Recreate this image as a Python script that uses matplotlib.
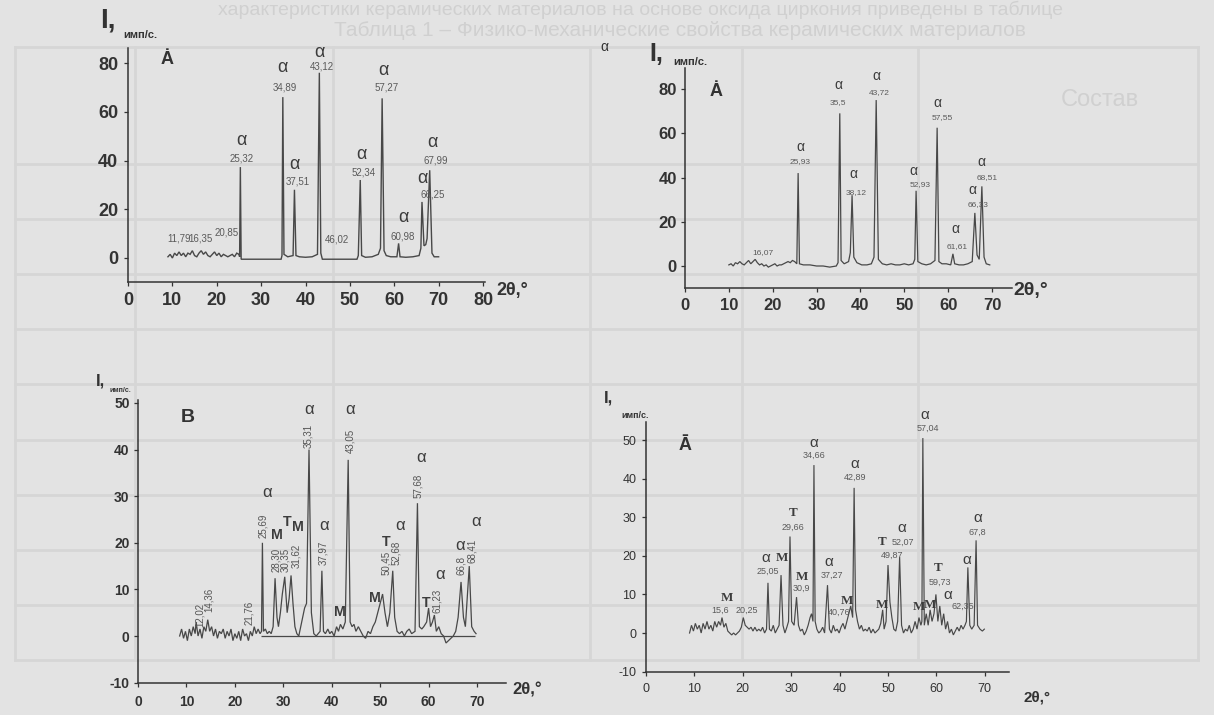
import numpy as np
import matplotlib
matplotlib.use("Agg")
import matplotlib.pyplot as plt

plt.rcParams['font.family'] = ['Liberation Sans', 'DejaVu Sans']
plt.rcParams['axes.unicode_minus'] = False

# ---------------- data (2theta, intensity) ----------------
pattern_a1 = [
    (9.0, 0.5), (9.5, 1.5), (10.0, 0.0), (10.5, 2.0), (11.0, 1.0), (11.5, 2.5), (12.0, 1.0),
    (12.5, 2.0), (13.0, 0.5), (13.5, 2.0), (14.0, 1.5), (14.5, 3.0), (15.0, 1.0), (15.5, 0.5),
    (16.0, 2.0), (16.5, 3.0), (17.0, 1.5), (17.5, 2.5), (18.0, 1.0), (18.5, 0.5), (19.0, 1.5),
    (19.5, 2.5), (20.0, 1.0), (20.5, 2.0), (21.0, 0.5), (21.5, 1.5), (22.0, 1.0), (22.5, 0.5),
    (23.0, 1.0), (23.5, 1.5), (24.0, 0.5), (24.5, 2.0), (25.0, 1.5), (25.15, 0.5), (25.32, 37.3),
    (25.5, -0.5), (34.5, -0.5), (34.7, 1.0), (34.89, 66.0), (35.15, 1.5), (36.0, 0.5), (37.2, 1.0),
    (37.51, 28.0), (37.85, 1.0), (38.6, 0.5), (40.0, 0.3), (41.5, 0.5), (42.7, 1.5), (43.12, 76.0),
    (43.45, 2.0), (43.8, -0.5), (51.6, -0.5), (51.9, 1.0), (52.34, 32.0), (52.65, 1.0), (53.5, 0.3),
    (55.0, 0.5), (56.4, 1.5), (56.9, 4.0), (57.27, 65.5), (57.7, 3.0), (58.2, 1.0), (59.2, 0.5),
    (60.6, 0.5), (60.98, 6.0), (61.3, 0.5), (62.6, 0.3), (64.2, 0.5), (65.6, 1.0), (66.0, 4.0),
    (66.25, 23.0), (66.7, 5.0), (67.1, 5.5), (67.4, 8.0), (67.99, 36.0), (68.5, 2.0), (69.0, 0.5),
    (70.0, 0.5),
]

pattern_a2 = [
    (10.0, 0.5), (10.5, 1.0), (11.0, 0.0), (11.5, 1.5), (12.0, 1.0), (12.5, 2.0), (13.0, 1.0),
    (13.5, 0.5), (14.0, 1.5), (14.5, 2.5), (15.0, 1.0), (15.5, 2.0), (16.0, 3.0), (16.5, 1.5),
    (17.0, 0.5), (17.5, 1.0), (18.0, 0.0), (18.5, 0.5), (19.0, -0.5), (19.5, 0.0), (20.0, 0.5),
    (20.5, 1.0), (21.0, 0.0), (21.5, 0.5), (22.0, 0.5), (22.5, 1.0), (23.0, 1.5), (23.5, 2.0),
    (24.0, 1.5), (24.5, 2.5), (25.0, 2.0), (25.5, 1.0), (25.8, 42.0), (26.1, 1.0), (27.0, 0.5),
    (28.5, 0.5), (30.0, 0.0), (31.5, 0.0), (33.0, -0.5), (34.5, 0.0), (34.9, 1.5), (35.3, 69.0),
    (35.6, 2.5), (36.3, 1.0), (37.3, 2.0), (37.7, 6.0), (38.1, 32.0), (38.5, 4.0), (39.2, 1.5),
    (40.3, 0.5), (41.5, 0.5), (42.5, 1.0), (43.1, 4.0), (43.6, 75.0), (44.1, 3.0), (45.0, 1.0),
    (46.0, 0.5), (47.0, 1.0), (48.0, 0.5), (49.0, 0.5), (50.0, 1.0), (51.0, 0.5), (52.0, 1.0),
    (52.4, 3.0), (52.7, 34.0), (53.1, 2.0), (54.0, 1.0), (55.0, 0.5), (56.0, 1.0), (57.0, 2.5),
    (57.5, 62.5), (57.9, 2.0), (58.6, 1.0), (59.6, 1.0), (60.6, 0.5), (61.1, 5.5), (61.5, 1.0),
    (62.5, 0.5), (63.5, 0.5), (64.5, 1.0), (65.5, 2.0), (66.1, 24.0), (66.6, 5.0), (67.1, 3.0),
    (67.7, 36.0), (68.2, 4.0), (68.7, 1.0), (69.5, 0.5),
]

pattern_b = [
    (8.6, 0.0), (9.0, 1.5), (9.4, -0.5), (9.8, 1.0), (10.2, -1.0), (10.6, 1.5), (11.0, 0.0),
    (11.4, 2.0), (11.8, 0.5), (12.0, 3.0), (12.4, 0.0), (12.8, 1.5), (13.2, -0.5), (13.6, 2.0),
    (14.0, 1.0), (14.4, 3.5), (14.8, 1.0), (15.2, 2.0), (15.6, 0.0), (16.0, 1.5), (16.4, -0.5),
    (16.8, 1.0), (17.2, 0.5), (17.6, 1.5), (18.0, -0.5), (18.4, 1.0), (18.8, 0.0), (19.2, 1.5),
    (19.6, -1.0), (20.0, 0.5), (20.4, -0.5), (20.8, 1.0), (21.2, -1.0), (21.6, 1.5), (22.0, 0.0),
    (22.4, 0.5), (22.8, -1.0), (23.2, 1.0), (23.6, 0.0), (24.0, 2.0), (24.4, 0.5), (24.8, 1.5),
    (25.2, 0.5), (25.5, 1.0), (25.69, 20.0), (25.9, 1.0), (26.3, 1.5), (26.7, 0.5), (27.1, 1.0),
    (27.5, 0.5), (27.9, 2.0), (28.3, 12.4), (28.7, 4.0), (29.0, 2.0), (29.4, 5.0), (29.8, 9.0),
    (30.3, 12.7), (30.8, 5.0), (31.2, 8.0), (31.6, 13.0), (32.0, 7.0), (32.4, 2.0), (32.8, 0.5),
    (33.2, 0.0), (33.6, 2.0), (34.0, 4.0), (34.4, 6.0), (34.8, 7.0), (35.31, 40.0), (35.8, 5.0),
    (36.3, 0.5), (36.8, 0.0), (37.2, 0.5), (37.6, 1.0), (37.97, 14.0), (38.3, 1.0), (38.7, 0.5),
    (39.2, 1.5), (39.6, 0.5), (40.0, 1.0), (40.5, 0.0), (41.0, 2.0), (41.4, 1.0), (41.8, 2.5),
    (42.3, 1.5), (42.8, 3.0), (43.4, 37.8), (43.8, 3.0), (44.2, 2.0), (44.6, 2.5), (45.0, 1.0),
    (45.5, 2.0), (46.0, 1.0), (46.5, 0.0), (47.0, -0.5), (47.5, 1.0), (48.0, 0.5), (48.5, 2.0),
    (49.0, 3.0), (49.5, 5.0), (50.0, 7.0), (50.5, 9.0), (51.0, 5.0), (51.5, 2.0), (52.0, 5.0),
    (52.6, 14.0), (53.0, 4.0), (53.5, 1.0), (54.0, 0.5), (54.5, 1.0), (55.0, 0.0), (55.5, 1.0),
    (56.0, 1.5), (56.5, 0.5), (57.2, 1.0), (57.7, 28.5), (58.1, 2.0), (58.6, 1.5), (59.0, 2.0),
    (59.6, 3.0), (60.0, 6.0), (60.4, 2.0), (60.8, 3.0), (61.2, 4.5), (61.6, 1.0), (62.1, 2.0),
    (62.6, 0.5), (63.1, 0.0), (63.6, -1.5), (64.1, -1.0), (64.6, -0.5), (65.1, 0.0), (65.6, 1.0),
    (66.1, 4.0), (66.7, 11.6), (67.2, 4.0), (67.6, 2.0), (68.4, 15.0), (68.9, 2.0), (69.4, 1.0),
    (69.8, 0.5),
]
baseline_b = (25.5, 69.5)

pattern_a4 = [
    (9.0, 0.0), (9.4, 2.0), (9.8, 0.5), (10.2, 2.5), (10.6, 1.0), (11.0, 2.0), (11.4, 0.0),
    (11.8, 2.5), (12.2, 1.0), (12.6, 3.0), (13.0, 1.0), (13.4, 2.0), (13.8, 0.5), (14.2, 3.0),
    (14.6, 1.5), (15.0, 3.0), (15.4, 2.0), (15.7, 4.0), (16.1, 1.5), (16.5, 2.5), (16.9, 0.5),
    (17.3, 0.0), (17.7, -0.5), (18.1, 0.0), (18.5, -0.5), (18.9, 0.0), (19.3, 0.5), (19.7, 1.5),
    (20.1, 4.0), (20.5, 2.0), (20.9, 1.5), (21.3, 1.0), (21.7, 1.5), (22.1, 0.5), (22.5, 1.5),
    (22.9, 0.5), (23.3, 1.0), (23.7, 0.5), (24.1, 1.5), (24.5, 0.0), (24.9, 1.0), (25.2, 13.0),
    (25.5, 1.0), (25.9, 0.5), (26.3, 2.0), (26.7, 0.0), (27.1, 1.0), (27.5, 2.0), (27.9, 15.0),
    (28.3, 2.0), (28.7, 0.0), (29.1, 1.5), (29.45, 3.0), (29.75, 25.0), (30.1, 3.0), (30.6, 2.0),
    (31.1, 9.3), (31.5, 2.0), (31.9, 0.5), (32.3, 1.0), (32.7, -0.5), (33.1, 0.5), (33.5, 2.0),
    (33.9, 4.0), (34.2, 5.0), (34.5, 3.0), (34.7, 43.5), (34.95, 3.0), (35.3, 1.0), (35.7, 0.0),
    (36.1, 0.5), (36.5, 1.5), (36.9, 0.0), (37.5, 12.4), (37.9, 1.0), (38.3, 0.0), (38.7, 2.0),
    (39.1, 0.5), (39.5, 1.0), (39.9, 0.0), (40.3, 1.5), (40.7, 2.5), (41.1, 1.0), (41.5, 3.0),
    (41.9, 5.0), (42.3, 7.0), (42.7, 4.0), (43.0, 37.6), (43.3, 6.0), (43.7, 3.0), (44.1, 1.0),
    (44.5, 2.0), (44.9, 0.5), (45.3, 1.0), (45.7, 0.5), (46.1, 1.5), (46.5, 0.0), (46.9, 1.0),
    (47.3, 0.0), (47.7, 0.5), (48.1, 1.0), (48.5, 2.5), (48.9, 6.0), (49.2, 1.0), (49.6, 3.0),
    (50.0, 17.6), (50.4, 8.0), (50.8, 4.0), (51.2, 1.0), (51.6, 0.5), (52.0, 3.0), (52.4, 19.7),
    (52.8, 2.0), (53.2, 0.0), (53.6, 1.0), (54.0, 0.5), (54.4, 2.0), (54.8, 0.0), (55.2, 1.0),
    (55.6, 3.0), (56.0, 1.0), (56.4, 4.0), (56.8, 2.0), (57.0, 3.0), (57.2, 50.5), (57.5, 2.0),
    (57.9, 5.0), (58.3, 2.0), (58.7, 6.0), (59.1, 3.0), (59.5, 5.0), (59.9, 10.0), (60.3, 3.0),
    (60.7, 7.0), (61.1, 2.0), (61.5, 5.0), (61.9, 1.0), (62.3, 3.0), (62.7, 0.0), (63.1, 1.0),
    (63.5, -0.5), (63.9, 0.5), (64.3, 1.5), (64.7, 0.5), (65.1, 2.0), (65.5, 1.0), (65.9, 2.0),
    (66.2, 3.0), (66.5, 17.0), (66.9, 2.0), (67.3, 1.0), (67.8, 2.0), (68.2, 24.0), (68.5, 2.0),
    (69.0, 1.0), (69.5, 0.5), (69.9, 1.0),
]

# peak labels: (2theta, intensity, text)
phase_a1 = [(25.5, 48.4, 'α'), (34.9, 78, 'α'), (43.2, 84.5, 'α'), (37.6, 38.5, 'α'), (57.5, 77, 'α'),
            (52.7, 42.5, 'α'), (62.0, 16.5, 'α'), (66.3, 32.5, 'α'), (68.5, 47.5, 'α')]
num_a1 = [(25.5, 41, '25,32'), (35.4, 70, '34,89'), (43.6, 78.5, '43,12'), (38.3, 31.5, '37,51'),
          (58.3, 70, '57,27'), (53.2, 35, '52,34'), (62.0, 9, '60,98'), (68.6, 26, '66,25'),
          (69.4, 40, '67,99'), (11.4, 8, '11,79'), (16.4, 8, '16,35'), (22.3, 10.5, '20,85'),
          (47.1, 7.4, '46,02')]

phase_a2 = [(26.2, 54, 'α'), (34.9, 82, 'α'), (43.6, 86, 'α'), (38.3, 41.5, 'α'), (52.0, 43, 'α'),
            (57.5, 73.5, 'α'), (61.6, 16.5, 'α'), (65.6, 34.5, 'α'), (67.7, 47, 'α')]
num_a2 = [(26.2, 47, '25,93'), (34.9, 73.7, '35,5'), (44.2, 78.6, '43,72'), (39.0, 33.4, '38,12'),
          (53.6, 36.6, '52,93'), (58.6, 67, '57,55'), (62.0, 9.0, '61,61'), (66.9, 28.0, '66,33'),
          (68.8, 40.2, '68,51'), (17.8, 5.9, '16,07')]

phase_b = [(35.3, 48.5, 'α'), (43.8, 48.5, 'α'), (58.4, 38.4, 'α'), (26.6, 30.7, 'α'), (28.7, 21.7, 'M'),
           (30.8, 24.5, 'T'), (33.0, 23.4, 'M'), (38.4, 23.8, 'α'), (41.7, 5.2, 'M'), (48.9, 8.2, 'M'),
           (51.2, 20.2, 'T'), (54.1, 23.8, 'α'), (59.6, 7.1, 'T'), (62.4, 13.1, 'α'), (66.5, 19.5, 'α'),
           (69.8, 24.5, 'α')]
num_b = [(35.1, 40.3, '35,31'), (43.8, 39.3, '43,05'), (57.8, 29.6, '57,68'), (25.8, 21.0, '25,69'),
         (28.5, 13.7, '28,30'), (30.4, 13.7, '30,35'), (32.6, 14.6, '31,62'), (38.2, 15.2, '37,97'),
         (51.2, 13.1, '50,45'), (53.3, 15.2, '52,68'), (61.8, 4.9, '61,23'), (66.7, 13.1, '66,8'),
         (68.9, 15.7, '68,41'), (12.8, 1.9, '12,02'), (14.7, 5.2, '14,36'), (22.9, 2.4, '21,76')]

phase_a4 = [(34.7, 49.2, 'α'), (43.2, 43.8, 'α'), (30.4, 31.1, 'T'), (24.8, 19.4, 'α'), (28.1, 19.4, 'M'),
            (32.2, 14.5, 'M'), (37.8, 18.4, 'α'), (16.7, 9.1, 'M'), (41.5, 8.3, 'M'), (48.8, 7.3, 'M'),
            (52.9, 27.2, 'α'), (48.8, 23.6, 'T'), (57.6, 56.5, 'α'), (60.3, 16.8, 'T'), (56.4, 6.7, 'M'),
            (58.7, 7.3, 'M'), (62.3, 9.8, 'α'), (66.3, 18.9, 'α'), (68.6, 29.8, 'α')]
num_a4 = [(34.7, 46.1, '34,66'), (43.2, 40.4, '42,89'), (30.4, 27.5, '29,66'), (25.2, 16.1, '25,05'),
          (32.2, 11.7, '30,9'), (38.4, 15.0, '37,27'), (15.4, 6.0, '15,6'), (20.8, 6.0, '20,25'),
          (40.0, 5.4, '40,76'), (53.1, 23.6, '52,07'), (50.8, 20.2, '49,87'), (58.3, 53.1, '57,04'),
          (60.7, 13.2, '59,73'), (65.4, 6.8, '62,35'), (68.4, 26.2, '67,8')]

# ---------------- figure ----------------
W, H = 1214, 715
BG = '#e3e3e3'
GHOST = '#d0d0d0'
LINE = '#484848'
AXC = '#333333'

fig = plt.figure(figsize=(W / 100, H / 100), dpi=100, facecolor=BG)

# pixel-space layer for the faint scanned table behind the charts and for axis captions
bg = fig.add_axes([0, 0, 1, 1])
bg.set_xlim(0, W)
bg.set_ylim(H, 0)
bg.axis('off')

bg.text(640, 10, 'характеристики керамических материалов на основе оксида циркония приведены в таблице',
        color=GHOST, fontsize=14, ha='center', va='center')
bg.text(680, 30, 'Таблица 1 – Физико-механические свойства керамических материалов',
        color=GHOST, fontsize=15, ha='center', va='center')
row_y = [47, 164, 219, 274, 329, 384, 440, 495, 550, 605, 660]
for y in row_y:
    bg.plot([15, 1198], [y, y], color='#d6d6d6', lw=2, zorder=0)
for x in [15, 135, 333, 590, 742, 918, 1198]:
    bg.plot([x, x], [47, 660], color='#d6d6d6', lw=2, zorder=0)
bg.text(1100, 100, 'Состав', color=GHOST, fontsize=17, ha='center', va='center')


def panel(left_px, x0_px, xscale, y0_px, yscale, xlim, ylim):
    right = x0_px + xlim[1] * xscale
    top = y0_px - ylim[1] * yscale
    bottom = y0_px - ylim[0] * yscale
    ax = fig.add_axes([left_px / W, 1 - bottom / H, (right - left_px) / W, (bottom - top) / H])
    ax.set_xlim(*xlim)
    ax.set_ylim(*ylim)
    ax.patch.set_visible(False)
    for s in ['top', 'right']:
        ax.spines[s].set_visible(False)
    for s in ['left', 'bottom']:
        ax.spines[s].set_color(AXC)
        ax.spines[s].set_linewidth(1.1)
    return ax


def style_ticks(ax, xticks, yticks, size, xpad, ypad, bold=True):
    ax.set_xticks(xticks)
    ax.set_yticks(yticks)
    ax.tick_params(axis='x', direction='out', length=3, width=0.9, colors=AXC, labelsize=size, pad=xpad)
    ax.tick_params(axis='y', direction='out', length=3, width=0.9, colors=AXC, labelsize=size, pad=ypad)
    for lab in ax.get_xticklabels() + ax.get_yticklabels():
        lab.set_fontweight('bold' if bold else 'normal')


def draw_pattern(ax, pts, lw=0.9):
    arr = np.array(pts)
    ax.plot(arr[:, 0], arr[:, 1], color=LINE, lw=lw, solid_joinstyle='miter')


def labels(ax, phases, nums, psize, nsize, rot=0, serif_mt=False):
    for x, y, t in phases:
        kw = {}
        if serif_mt and t != 'α':
            kw['family'] = ['Liberation Serif', 'DejaVu Serif']
        ax.text(x, y, t, fontsize=psize if t == 'α' else psize * 0.85, color='#3c3c3c',
                ha='center', va='center', fontweight='bold' if t != 'α' else 'normal', **kw)
    for x, y, t in nums:
        if rot:
            ax.text(x, y, t, fontsize=nsize, color='#555555', ha='center', va='bottom', rotation=90)
        else:
            ax.text(x, y, t, fontsize=nsize, color='#5a5a5a', ha='center', va='center')


# panel 1 (top left)
ax1 = panel(128, 128, 4.4375, 258, 2.4375, (0, 80.5), (-10, 86))
style_ticks(ax1, np.arange(0, 81, 10), np.arange(0, 81, 20), 13, 4, 4)
draw_pattern(ax1, pattern_a1, 1.0)
labels(ax1, phase_a1, num_a1, 13, 7)
bg.text(100, 21, 'I,', fontsize=20, fontweight='bold', color=AXC, va='center')
bg.text(123, 35, 'имп/с.', fontsize=8, fontweight='bold', color=AXC, va='center')
bg.text(167, 60, 'Ȧ', fontsize=13, fontweight='bold', color=AXC, ha='center', va='center')
bg.text(496, 290, '2θ,°', fontsize=13, fontweight='bold', color=AXC, va='center')

# panel 2 (top right)
ax2 = panel(685, 685, 4.385, 266, 2.2125, (0, 74.5), (-10, 89.5))
style_ticks(ax2, np.arange(0, 71, 10), np.arange(0, 81, 20), 12, 4, 3)
draw_pattern(ax2, pattern_a2, 0.9)
labels(ax2, phase_a2, num_a2, 10, 6)
bg.text(604, 47, 'α', fontsize=10, color=AXC, ha='center', va='center')
bg.text(649, 54, 'I,', fontsize=18, fontweight='bold', color=AXC, va='center')
bg.text(673, 62, 'имп/с.', fontsize=8, fontweight='bold', color=AXC, va='center')
bg.text(716, 92, 'Ȧ', fontsize=13, fontweight='bold', color=AXC, ha='center', va='center')
bg.text(1013, 290, '2θ,°', fontsize=14, fontweight='bold', color=AXC, va='center')

# panel 3 (bottom left)
ax3 = panel(138, 138, 4.843, 636, 4.66, (0, 76), (-10, 50.6))
style_ticks(ax3, np.arange(0, 71, 10), np.arange(-10, 51, 10), 10, 6, 3)
draw_pattern(ax3, pattern_b, 0.9)
ax3.hlines(0, baseline_b[0], baseline_b[1], color=LINE, lw=0.9)
labels(ax3, phase_b, num_b, 12, 7, rot=90)
bg.text(96, 381, 'I,', fontsize=12, fontweight='bold', color=AXC, va='center')
bg.text(110, 391, 'имп/с.', fontsize=5, fontweight='bold', color=AXC, va='center')
bg.text(188, 417, 'B', fontsize=14, fontweight='bold', color=AXC, ha='center', va='center')
bg.text(512, 690, '2θ,°', fontsize=12, fontweight='bold', color=AXC, va='center')

# panel 4 (bottom right)
ax4 = panel(646, 646, 4.84, 633, 3.86, (0, 75), (-10, 54.7))
style_ticks(ax4, np.arange(0, 71, 10), np.arange(-10, 51, 10), 9, 5, 4, bold=False)
draw_pattern(ax4, pattern_a4, 0.85)
labels(ax4, phase_a4, num_a4, 11, 6.5, serif_mt=True)
bg.text(604, 398, 'I,', fontsize=12, fontweight='bold', color=AXC, va='center')
bg.text(621, 415, 'имп/с.', fontsize=6.5, fontweight='bold', color=AXC, va='center')
bg.text(685, 446, 'Ā', fontsize=13, fontweight='bold', color=AXC, ha='center', va='center')
bg.text(1024, 697, '2θ,°', fontsize=11, fontweight='bold', color=AXC, va='center')

fig.savefig('out.png', dpi=100, facecolor=BG)
